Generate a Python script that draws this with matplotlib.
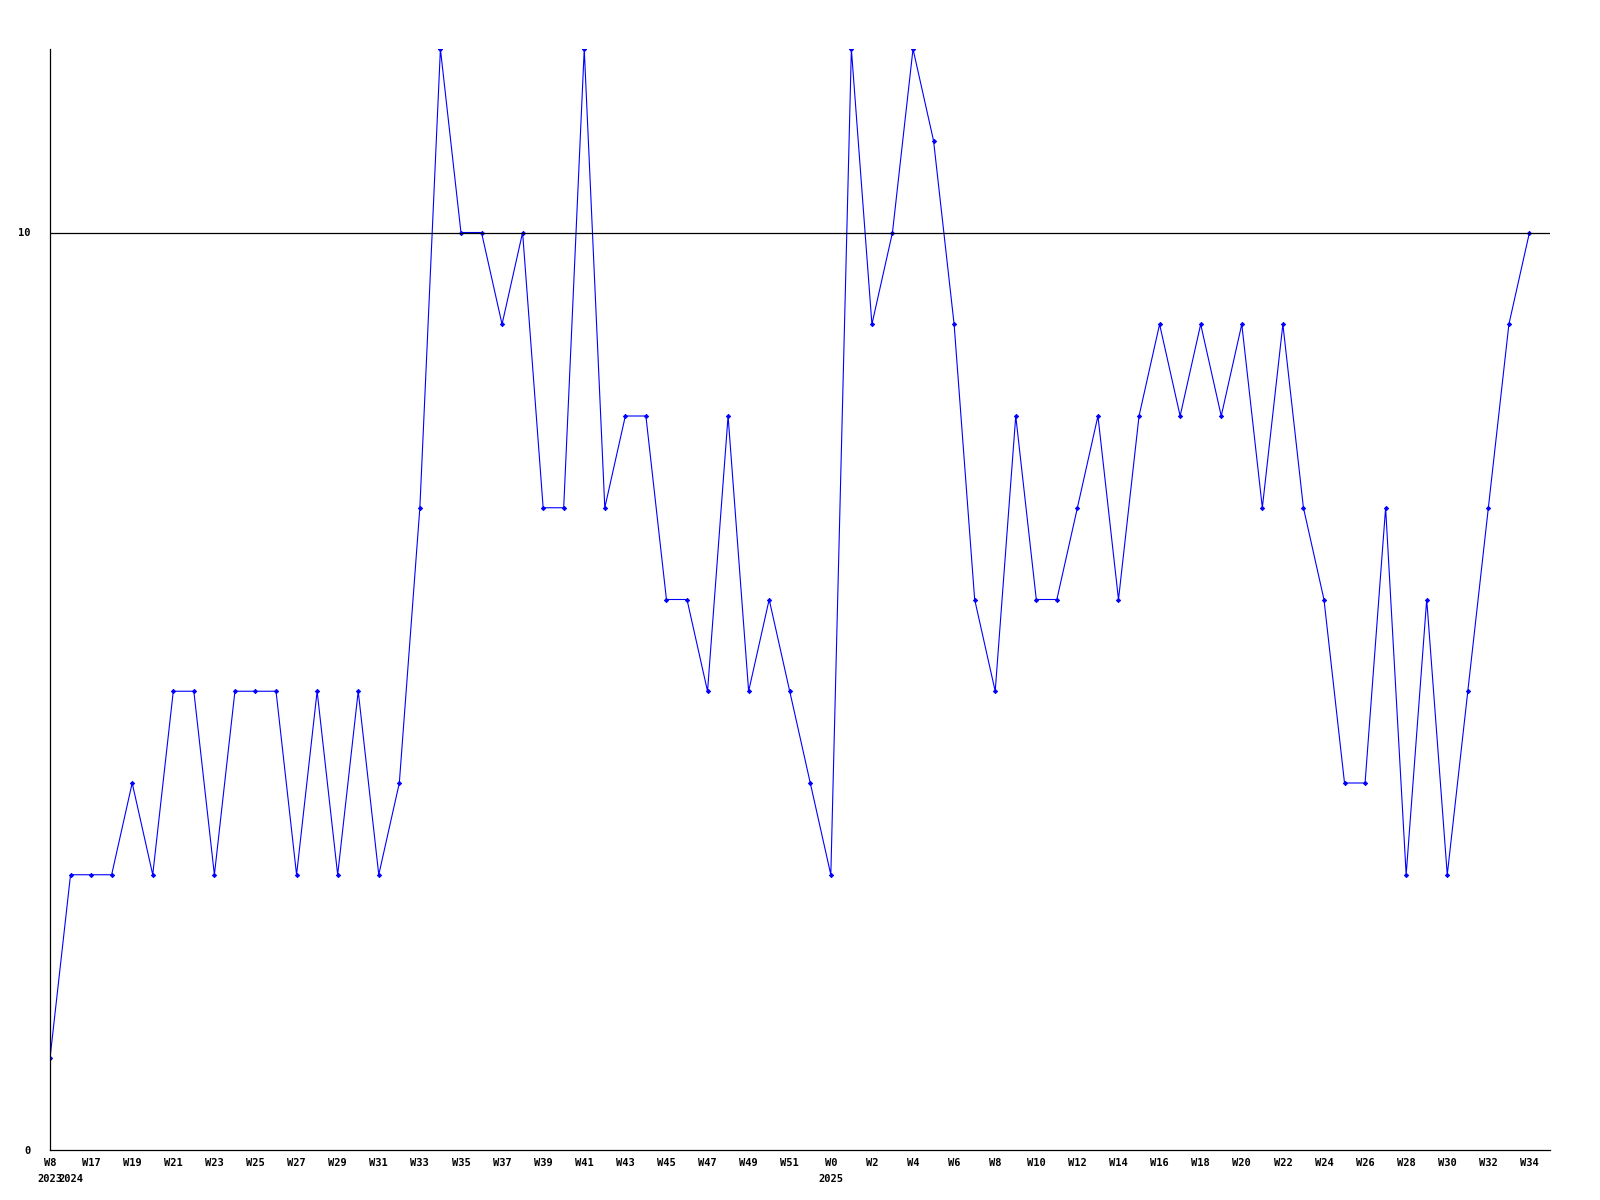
import matplotlib
matplotlib.use("Agg")
import matplotlib.pyplot as plt
import matplotlib.transforms as mtransforms

# weekly series, 2023 W8 then 2024 W16 .. 2025 W34
weeks = ["W8", "W16"] + [f"W{w}" for w in range(17, 53)] + [f"W{w}" for w in range(0, 35)]
values = [1, 3, 3, 3, 4, 3, 5, 5, 3, 5, 5, 5, 3, 5, 3, 5, 3, 4, 7, 12,
          10, 10, 9, 10, 7, 7, 12, 7, 8, 8, 6, 6, 5, 8, 5, 6, 5, 4, 3, 12,
          9, 10, 12, 11, 9, 6, 5, 8, 6, 6, 7, 8, 6, 8, 9, 8, 9, 8, 9, 7,
          9, 7, 6, 4, 4, 7, 3, 6, 3, 5, 7, 9, 10]
year_labels = {0: "2023", 1: "2024", 38: "2025"}
ref_level = 10

fig = plt.figure(figsize=(16, 12), dpi=100)
ax = fig.add_axes([50 / 1600, 50 / 1200, 1500 / 1600, 1101 / 1200])

x = list(range(len(values)))
ax.plot(x, values, color="#0000ff", linewidth=0.8, marker="D", markersize=2.2,
        markeredgewidth=0.6)
ax.axhline(ref_level, color="black", linewidth=0.9)

ax.set_xlim(0, 73)
ax.set_ylim(0, 12)

for s in ["top", "right"]:
    ax.spines[s].set_visible(False)
for s in ["left", "bottom"]:
    ax.spines[s].set_linewidth(0.9)

font = dict(family="DejaVu Sans Mono", fontweight="bold", fontsize=7.5)

ax.set_yticks([0, ref_level])
ax.set_yticklabels(["0", "10"], **font)
ax.tick_params(axis="y", length=0, pad=14)

ticks = [i for i in x if i % 2 == 0]
ax.set_xticks(ticks)
ax.set_xticklabels([weeks[i] for i in ticks], **font)
ax.tick_params(axis="x", length=0, pad=6)

trans = mtransforms.blended_transform_factory(ax.transData, ax.transAxes)
for i, yr in year_labels.items():
    ax.text(i, -0.026, yr, transform=trans, ha="center", va="center", **font)

fig.savefig("out.png", dpi=100)
